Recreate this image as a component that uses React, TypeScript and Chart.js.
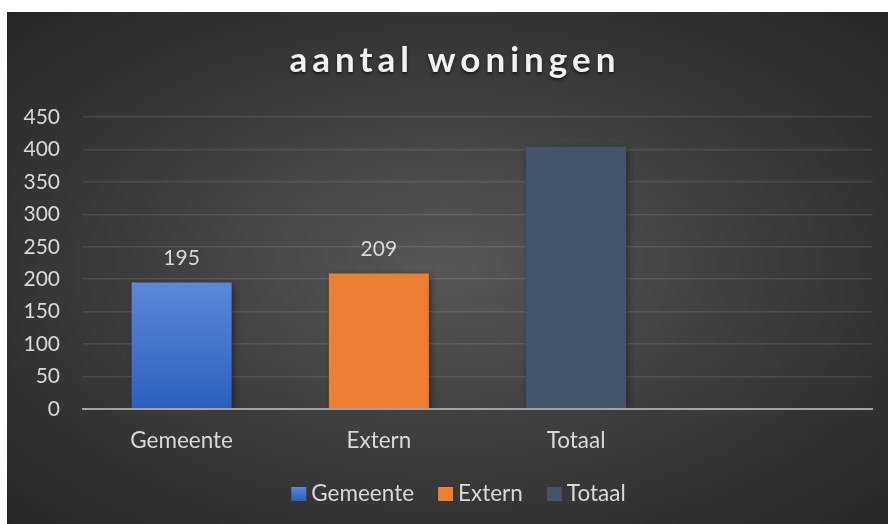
import React, { useEffect, useRef } from "react";
import { Chart, registerables } from "chart.js";

Chart.register(...registerables);

const titleText = "aantal woningen";
const categories = ["Gemeente", "Extern", "Totaal", ""];
const seriesNames = ["Gemeente", "Extern", "Totaal"];
const gemeenteValues = [195, null, null, null];
const externValues = [null, 209, null, null];
const totaalValues = [null, null, 404, null];
const showValueLabels = [true, true, false];
const yMin = 0;
const yMax = 450;
const yStep = 50;

const FONT = "Lato, 'Noto Sans', sans-serif";
const TEXT = "#d9d9d9";
const W = 881;
const H = 512;

function gemeenteFill(chart: any, top: number, bottom: number) {
  const g = chart.ctx.createLinearGradient(0, top, 0, bottom);
  g.addColorStop(0, "#5d88d8");
  g.addColorStop(1, "#2c5fbf");
  return g;
}

const barShadow = {
  id: "barShadow",
  beforeDatasetsDraw(chart: any) {
    const c = chart.ctx;
    c.save();
    c.shadowColor = "rgba(0,0,0,0.45)";
    c.shadowBlur = 7;
    c.shadowOffsetX = 2;
    c.shadowOffsetY = 2;
  },
  afterDatasetsDraw(chart: any) {
    chart.ctx.restore();
  },
};

const overlay = {
  id: "overlay",
  afterDraw(chart: any) {
    const c = chart.ctx;
    // value labels
    c.save();
    c.font = `21px ${FONT}`;
    c.fillStyle = TEXT;
    c.textAlign = "center";
    c.textBaseline = "alphabetic";
    chart.data.datasets.forEach((ds: any, di: number) => {
      if (!showValueLabels[di]) return;
      const meta = chart.getDatasetMeta(di);
      meta.data.forEach((el: any, i: number) => {
        const v = ds.data[i];
        if (v === null || v === undefined) return;
        c.fillText(String(v), el.x, el.y - 17);
      });
    });
    c.restore();

    // title
    c.save();
    c.font = `bold 35px ${FONT}`;
    (c as any).letterSpacing = "5px";
    c.fillStyle = "#f2f2f2";
    c.textAlign = "left";
    c.textBaseline = "alphabetic";
    c.shadowColor = "rgba(0,0,0,0.6)";
    c.shadowBlur = 3;
    c.shadowOffsetY = 2;
    const tw = c.measureText(titleText).width - 5;
    c.fillText(titleText, 445.5 - tw / 2, 60);
    c.restore();

    // legend
    c.save();
    c.font = `22.5px ${FONT}`;
    c.textBaseline = "alphabetic";
    c.textAlign = "left";
    const boxW = 15, boxH = 14, gap = 5, spacing = 24;
    const widths = seriesNames.map((n) => c.measureText(n).width);
    const total = widths.reduce((a, b) => a + b + boxW + gap, 0) + spacing * (seriesNames.length - 1);
    let x = 451.5 - total / 2;
    const boxTop = 475;
    seriesNames.forEach((n, i) => {
      const ds = chart.data.datasets[i];
      if (i === 0) c.fillStyle = gemeenteFill(chart, boxTop, boxTop + boxH);
      else c.fillStyle = ds.backgroundColor;
      c.fillRect(x, boxTop, boxW, boxH);
      x += boxW + gap;
      c.fillStyle = TEXT;
      c.fillText(n, x, 489);
      x += widths[i] + spacing;
    });
    c.restore();
  },
};

export default function App() {
  const ref = useRef<HTMLCanvasElement | null>(null);
  useEffect(() => {
    if (!ref.current) return;
    const chart = new Chart(ref.current, {
      type: "bar",
      data: {
        labels: categories,
        datasets: [
          {
            label: seriesNames[0],
            data: gemeenteValues,
            backgroundColor: (ctx: any) => {
              const ch = ctx.chart;
              if (!ch.chartArea) return "#4472c4";
              const ys = ch.scales.y;
              return gemeenteFill(ch, ys.getPixelForValue(gemeenteValues[0] as number), ys.getPixelForValue(0));
            },
            grouped: false,
            categoryPercentage: 1,
            barPercentage: 0.507,
          },
          {
            label: seriesNames[1],
            data: externValues,
            backgroundColor: "#ed7d31",
            grouped: false,
            categoryPercentage: 1,
            barPercentage: 0.507,
          },
          {
            label: seriesNames[2],
            data: totaalValues,
            backgroundColor: "#44546a",
            grouped: false,
            categoryPercentage: 1,
            barPercentage: 0.507,
          },
        ],
      } as any,
      options: {
        responsive: false,
        animation: false,
        layout: { padding: { top: 105, right: 16, left: 0, bottom: 0 } },
        plugins: {
          legend: { display: false },
          title: { display: false },
          tooltip: { enabled: false },
        },
        scales: {
          x: {
            grid: { display: true, color: "transparent", drawTicks: false },
            border: { display: true, color: "#a3a3a3", width: 2, z: 1 },
            ticks: {
              color: TEXT,
              font: { family: FONT, size: 22.5 },
              padding: 18,
              autoSkip: false,
              maxRotation: 0,
            },
            afterFit: (s: any) => {
              s.height = 115;
            },
          },
          y: {
            min: yMin,
            max: yMax,
            ticks: {
              stepSize: yStep,
              color: TEXT,
              font: { family: FONT, size: 21 },
              padding: 23,
            },
            grid: {
              color: (c: any) => (c.tick && c.tick.value === 0 ? "transparent" : "rgba(255,255,255,0.1)"),
              lineWidth: 1.5,
              drawTicks: false,
            },
            border: { display: false },
            afterFit: (s: any) => {
              s.width = 76;
            },
          },
        },
      } as any,
      plugins: [barShadow, overlay],
    });
    return () => chart.destroy();
  }, []);
  return (
    <div
      style={{
        position: "absolute",
        left: 7,
        top: 12,
        width: W,
        height: H,
        background: "radial-gradient(ellipse farthest-corner at 50% 50%, #575757 0%, #3d3d3d 50%, #262626 100%)",
      }}
    >
      <canvas ref={ref} width={W} height={H} style={{ display: "block" }} />
    </div>
  );
}
